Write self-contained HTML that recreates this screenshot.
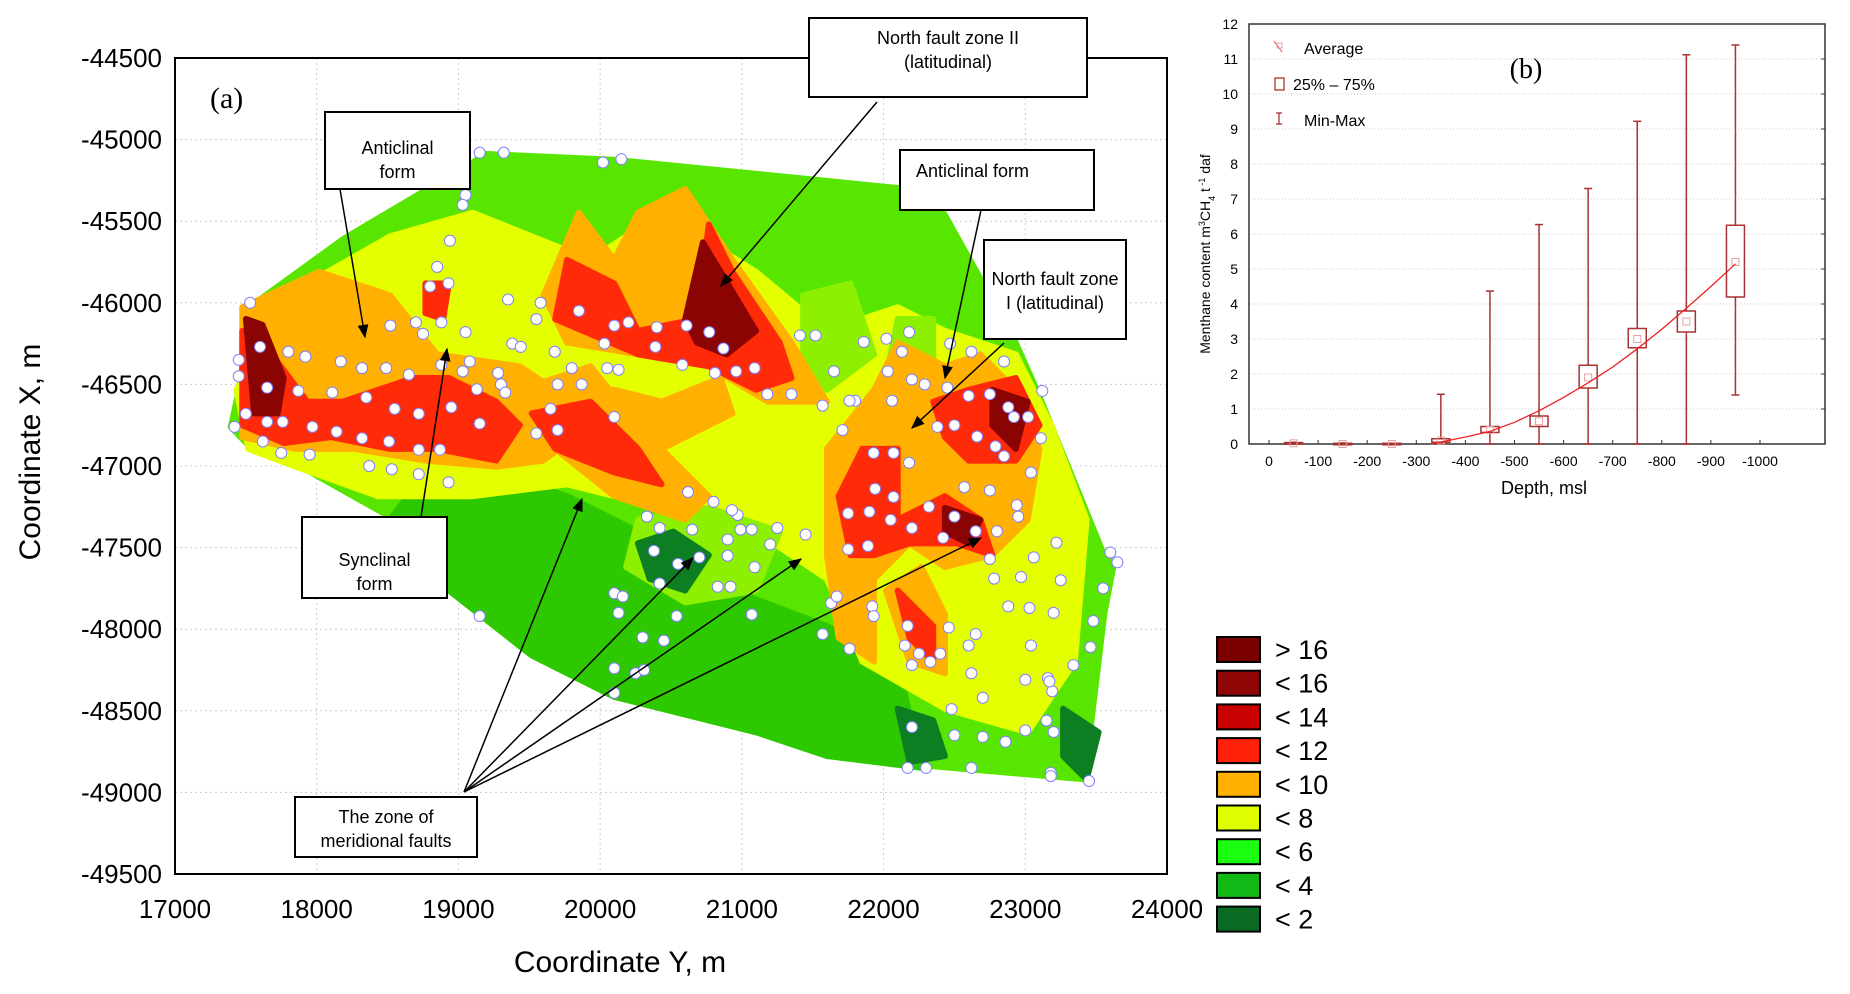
<!DOCTYPE html>
<html><head><meta charset="utf-8"><style>
html,body{margin:0;padding:0;background:#fff}
svg{display:block;font-family:"Liberation Sans",sans-serif}
</style></head><body>
<svg id="svg" width="1850" height="994" viewBox="0 0 1850 994">
<g id="map"></g>
<g id="box"></g>
</svg>
<script>
const NS="http://www.w3.org/2000/svg";
// ---------- Map data (Y, X in metres) ----------
const mapYTicks=[17000,18000,19000,20000,21000,22000,23000,24000];
const mapXTicks=[-44500,-45000,-45500,-46000,-46500,-47000,-47500,-48000,-48500,-49000,-49500];
const hull=[[17375,-46765],[17433,-46533],[17517,-46012],[18183,-45593],[19100,-45122],[19183,-45072],[20100,-45108],[22350,-45303],[22933,-46208],[23100,-46533],[23558,-47510],[23642,-47604],[23575,-47908],[23433,-48936],[22267,-48849],[21600,-48777],[21100,-48632],[20100,-48415],[19517,-48161],[18933,-47763],[18517,-47329],[17850,-47004],[17517,-46895]];
const zoneLow=[[18517,-47329],[18933,-47763],[19517,-48161],[20100,-48415],[21100,-48632],[21600,-48777],[22267,-48849],[22100,-48198],[21600,-47981],[20933,-47763],[20433,-47474],[19767,-47185],[19267,-47040],[18767,-47040]];
const zoneMid=[[17433,-46533],[17933,-45882],[18517,-45593],[19100,-45448],[19933,-45737],[20433,-45448],[21100,-45810],[21600,-46172],[22100,-46027],[22433,-46172],[22933,-46316],[23183,-46750],[23433,-47329],[23350,-48198],[23017,-48632],[22433,-48487],[21850,-48198],[21600,-47691],[21100,-47402],[20433,-47257],[19767,-47112],[19100,-47185],[18433,-47185],[17850,-47004],[17517,-46895]];
const zonesLight=[
 [[20267,-47329],[20767,-47257],[21267,-47402],[21100,-47763],[20600,-47836],[20183,-47619]],
 [[22100,-46099],[22350,-46099],[22350,-46533],[22183,-46678],[22017,-46461]],
 [[21433,-45954],[21767,-45882],[21933,-46316],[21600,-46533],[21433,-46316]]];
const zones10=[
 [[17475,-46027],[18017,-45810],[18517,-45954],[18850,-46316],[19433,-46389],[19683,-46533],[20100,-46533],[20433,-46606],[20850,-46461],[20933,-46678],[20433,-46895],[19933,-46750],[19600,-46967],[19267,-47004],[18767,-46967],[18267,-46895],[17850,-46895],[17475,-46823]],
 [[19433,-46533],[19933,-46389],[20267,-46750],[20767,-47185],[20600,-47329],[20100,-47185],[19683,-46895]],
 [[19600,-45954],[19850,-45448],[20100,-45737],[20267,-45448],[20600,-45303],[20933,-45737],[21350,-46244],[21600,-46606],[21183,-46606],[20767,-46389],[20267,-46316],[19767,-46244]],
 [[21600,-46895],[21933,-46533],[22100,-46244],[22433,-46389],[22683,-46316],[22933,-46533],[23100,-46895],[23017,-47329],[22767,-47546],[22433,-47619],[22183,-47474],[21933,-47691],[21933,-48198],[21683,-48053],[21600,-47546]],
 [[22017,-47763],[22267,-47619],[22433,-47908],[22433,-48270],[22183,-48198]]];
const zones12=[
 [[17475,-46172],[17683,-46316],[17933,-46606],[18183,-46606],[18683,-46461],[18933,-46461],[19267,-46606],[19433,-46750],[19267,-46967],[18850,-46895],[18517,-46895],[18100,-46823],[17767,-46859],[17475,-46750]],
 [[19517,-46678],[19933,-46606],[20267,-46895],[20433,-47112],[20100,-47040],[19683,-46895]],
 [[19683,-46099],[19767,-45737],[20100,-45882],[20267,-46172],[20683,-46099],[20767,-45520],[20933,-45810],[21267,-46244],[21350,-46461],[21100,-46533],[20767,-46389],[20267,-46316]],
 [[21683,-47185],[21850,-46895],[22100,-46895],[22100,-47329],[22267,-47257],[22433,-47185],[22683,-47329],[22767,-47546],[22517,-47474],[22183,-47474],[21933,-47546],[21767,-47546]],
 [[22350,-46606],[22600,-46533],[22933,-46461],[23100,-46750],[22933,-46967],[22600,-46967],[22433,-46823]],
 [[22100,-47763],[22350,-47981],[22350,-48198],[22183,-48053]],
 [[18767,-45882],[18933,-45882],[18892,-46099],[18767,-46063]]];
const zones16=[
 [[17500,-46099],[17617,-46135],[17767,-46461],[17725,-46678],[17558,-46678]],
 [[20725,-45629],[20850,-45810],[21100,-46172],[20892,-46316],[20683,-46244],[20600,-46099]],
 [[22433,-47257],[22683,-47329],[22600,-47474],[22433,-47402]],
 [[22767,-46533],[23017,-46606],[22933,-46895],[22767,-46750]]];
const zones2=[
 [[20267,-47474],[20517,-47402],[20767,-47546],[20600,-47763],[20350,-47691]],
 [[22100,-48487],[22350,-48559],[22433,-48777],[22183,-48813]],
 [[23267,-48487],[23517,-48632],[23433,-48921],[23267,-48777]]];
const wellY=[17530,17600,17450,17450,17500,17650,17800,17870,17650,17760,17920,17970,17420,17620,17750,17950,18170,18320,18490,18110,18350,18140,18320,18510,18550,18650,18520,18700,18750,18880,18880,18950,18720,18720,18870,18720,18930,18370,18530,18850,18800,18930,18940,19050,19030,19150,19320,20020,20150,19050,19030,19080,19130,19280,19150,19300,19330,19380,19440,19350,19580,19550,19680,19650,19700,19550,19700,19800,19870,20100,20030,20050,20130,20200,19850,20100,20400,20390,20610,20580,20770,20870,20810,20960,21090,21180,21350,21410,21520,21570,21650,21800,21860,22020,22030,22180,22130,22060,22200,22290,22470,22450,22620,22600,22750,22850,22880,22920,22660,22790,22850,23020,23120,23110,23040,22500,22380,21710,21760,21930,22070,22180,21940,21900,21750,21890,21750,22070,22050,22200,22320,22420,22500,22570,22650,22800,22750,22940,22950,23220,23600,23650,23550,23060,22750,22780,22880,22970,23030,23250,23200,23480,23460,23340,23040,23000,23160,23190,22600,22400,22330,22460,22620,22150,22170,22250,22200,22650,21630,21760,21570,21920,21930,21670,21450,21250,21200,21070,20970,20930,20990,20900,20700,20550,20380,20330,20420,20650,20800,20620,20900,20830,21070,20420,20540,20100,20160,20130,20300,20450,20100,20250,20310,20100,19150,21090,20920,22200,22500,22700,22300,22170,22620,22860,23000,23150,23200,23180,23180,23450,22480,23170,22700];
const wellX=[-46000,-46270,-46350,-46450,-46680,-46520,-46300,-46540,-46730,-46730,-46330,-46760,-46760,-46850,-46920,-46930,-46360,-46400,-46400,-46550,-46580,-46790,-46830,-46850,-46650,-46440,-46140,-46120,-46190,-46120,-46380,-46640,-46680,-46900,-46900,-47050,-47100,-47000,-47020,-45780,-45900,-45880,-45620,-45340,-45400,-45080,-45080,-45140,-45120,-46180,-46420,-46360,-46530,-46430,-46740,-46500,-46550,-46250,-46270,-45980,-46000,-46100,-46300,-46650,-46500,-46800,-46780,-46400,-46500,-46140,-46250,-46400,-46410,-46120,-46050,-46700,-46150,-46270,-46140,-46380,-46180,-46280,-46430,-46420,-46400,-46560,-46560,-46200,-46200,-46630,-46420,-46600,-46240,-46220,-46420,-46180,-46300,-46600,-46470,-46500,-46250,-46520,-46300,-46570,-46560,-46360,-46640,-46700,-46820,-46880,-46940,-46700,-46540,-46830,-47040,-46750,-46760,-46780,-46600,-46920,-46920,-46980,-47140,-47280,-47290,-47490,-47510,-47190,-47330,-47380,-47250,-47440,-47310,-47130,-47400,-47400,-47150,-47240,-47310,-47470,-47530,-47590,-47750,-47560,-47570,-47690,-47860,-47680,-47870,-47700,-47900,-47950,-48110,-48220,-48100,-48310,-48300,-48380,-48100,-48150,-48200,-47990,-48270,-48100,-47980,-48150,-48220,-48030,-47840,-48120,-48030,-47860,-47920,-47800,-47420,-47380,-47480,-47390,-47300,-47270,-47390,-47450,-47560,-47600,-47520,-47310,-47380,-47390,-47220,-47160,-47550,-47740,-47910,-47720,-47920,-47780,-47800,-47900,-48050,-48070,-48240,-48270,-48250,-48390,-47920,-47620,-47740,-48600,-48650,-48660,-48850,-48850,-48850,-48690,-48620,-48560,-48630,-48880,-48900,-48930,-48490,-48320,-48420];
const legendLabels=["> 16","< 16","< 14","< 12","< 10","< 8","< 6","< 4","< 2"];
const legendColors=["#7a0000","#8e0606","#c80000","#ff2208","#ffb000","#dfff00","#1cff10","#12b815","#0b6b22"];

// ---------- Box plot data ----------
const depths=[-50,-150,-250,-350,-450,-550,-650,-750,-850,-950];
const means=[0.02,0,0,0.1,0.4,0.65,1.9,3.0,3.5,5.2];
const q1=[0,0,0,0.05,0.33,0.5,1.6,2.75,3.2,4.2];
const q3=[0.04,0.02,0.02,0.15,0.5,0.8,2.25,3.3,3.8,6.25];
const mins=[0,0,0,0,0,0,0,0,0,1.4];
const maxs=[0.05,0.03,0.02,1.42,4.37,6.27,7.3,9.22,11.12,11.4];
const fitDepths=[-330,-400,-450,-500,-550,-600,-650,-700,-750,-800,-850,-900,-950];
const fitVals=[0,0.2,0.36,0.62,0.95,1.33,1.75,2.2,2.72,3.28,3.88,4.5,5.15];
const boxYTicks=[0,1,2,3,4,5,6,7,8,9,10,11,12];
const boxXTicks=[0,-100,-200,-300,-400,-500,-600,-700,-800,-900,-1000];

function el(tag,attrs,parent,text){const e=document.createElementNS(NS,tag);for(const k in attrs)e.setAttribute(k,attrs[k]);if(text!==undefined)e.textContent=text;parent.appendChild(e);return e;}

// ===== MAP =====
const map=document.getElementById('map');
const L=175,R=1167,T=58,B=874;
const sx=y=>L+(y-17000)/7000*(R-L);
const sy=x=>T+(-44500-x)/5000*(B-T);
const pts=a=>a.map(p=>sx(p[0]).toFixed(1)+","+sy(p[1]).toFixed(1)).join(" ");
// grid
mapYTicks.forEach(v=>{const g=el('line',{x1:sx(v),x2:sx(v),y1:T,y2:B,stroke:'#ccc','stroke-dasharray':'2,3'},map);});
mapXTicks.forEach(v=>{const g=el('line',{x1:L,x2:R,y1:sy(v),y2:sy(v),stroke:'#ccc','stroke-dasharray':'2,3'},map);});
function poly(arr,fill,name){const p=el('polygon',{points:pts(arr),fill:fill,stroke:fill,'stroke-width':6,'stroke-linejoin':'round'},map);return p;}
const h=poly(hull,'#58e600','contour-hull');h.setAttribute('stroke-width','1');
poly(zoneLow,'#2ec800','contour-low-zone');
poly(zoneMid,'#e4ff00','contour-band-8');
zonesLight.forEach(z=>poly(z,'#8cf000','contour-patch-6'));
zones10.forEach(z=>poly(z,'#ffb000','contour-patch-10'));
zones12.forEach(z=>poly(z,'#ff2a08','contour-patch-12'));
zones16.forEach(z=>poly(z,'#8a0404','contour-patch-16'));
zones2.forEach(z=>poly(z,'#0e7e22','contour-patch-2'));
// wells
wellY.forEach((y,i)=>{const c=el('circle',{cx:sx(y),cy:sy(wellX[i]),r:5.5,fill:'#fff',stroke:'#8080ff','stroke-width':1},map);});
// frame
el('rect',{x:L,y:T,width:R-L,height:B-T,fill:'none',stroke:'#000','stroke-width':2,},map);
mapYTicks.forEach(v=>{const t=el('text',{x:sx(v),y:918,'text-anchor':'middle','font-size':26},map,String(v));});
mapXTicks.forEach(v=>{const t=el('text',{x:162,y:sy(v)+9,'text-anchor':'end','font-size':26},map,String(v));});
el('text',{x:620,y:972,'text-anchor':'middle','font-size':30,},map,'Coordinate Y, m');
el('text',{x:0,y:0,'text-anchor':'middle','font-size':30,transform:'translate(40,452) rotate(-90)',},map,'Coordinate X, m');
el('text',{x:210,y:108,'font-size':30,'font-family':'Liberation Serif,serif',},map,'(a)');
// legend
legendLabels.forEach((lab,i)=>{const y0=637+i*33.7;
 const r=el('rect',{x:1217,y:y0,width:43,height:25,fill:legendColors[i],stroke:'#000','stroke-width':2},map);
 const t=el('text',{x:1275,y:y0+22,'font-size':27},map,lab);});
// annotations
el('defs',{},map).innerHTML='<marker id="ah" viewBox="0 0 10 10" refX="9" refY="5" markerWidth="9" markerHeight="9" orient="auto"><path d="M0,1L10,5L0,9z" fill="#000"/></marker>';
const arrows=[[340,189,365,337],[877,102,721,286],[981,210,945,378],[1004,343,912,428],[421,517,447,349],[464,792,582,499],[464,792,693,558],[464,792,801,559],[464,792,981,538]];
arrows.forEach(a=>{const l=el('line',{x1:a[0],y1:a[1],x2:a[2],y2:a[3],stroke:'#000','stroke-width':1.5,'marker-end':'url(#ah)'},map);});
function callout(x,y,w,hh,lines,name,anchor,tx){const g=el('g',{},map);
 el('rect',{x:x,y:y,width:w,height:hh,fill:'#fff',stroke:'#000','stroke-width':2},g);
 lines.forEach((s,i)=>el('text',{x:tx!==undefined?tx:x+w/2,y:y+(anchor||0)+i*24,'text-anchor':tx!==undefined?'start':'middle','font-size':18},g,s));}
callout(325,112,145,77,['Anticlinal','form'],'callout-anticlinal-left',42);
callout(809,18,278,79,['North fault zone II','(latitudinal)'],'callout-north-fault-ii',26);
callout(900,150,194,60,['Anticlinal form'],'callout-anticlinal-right',27,916);
callout(984,240,142,99,['North fault zone','I (latitudinal)'],'callout-north-fault-i',45);
callout(302,517,145,81,['Synclinal','form'],'callout-synclinal',49);
callout(295,797,182,60,['The zone of','meridional faults'],'callout-meridional-faults',26);

// ===== BOX PLOT =====
const box=document.getElementById('box');
const bL=1249,bR=1825,bT=24,bB=444;
const bx=d=>1269+(-d)/1000*491;
const by=v=>bB-v*(bB-bT)/12;
boxYTicks.forEach(v=>{if(v>0&&v<12){const g=el('line',{x1:bL,x2:bR,y1:by(v),y2:by(v),stroke:'#ccc','stroke-dasharray':'1,2'},box);}
 const t=el('text',{x:1238,y:by(v)+5,'text-anchor':'end','font-size':14},box,String(v));
 const k=el('line',{x1:bR-4,x2:bR,y1:by(v),y2:by(v),stroke:'#333'},box);});
boxXTicks.forEach(v=>{const t=el('text',{x:bx(v),y:466,'text-anchor':'middle','font-size':14},box,String(v));
 const k=el('line',{x1:bx(v),x2:bx(v),y1:bB,y2:bB-4,stroke:'#333'},box);});
el('rect',{x:bL,y:bT,width:bR-bL,height:bB-bT,fill:'none',stroke:'#333','stroke-width':1.5,},box);
depths.forEach((d,i)=>{const x=bx(d),w=18;const g=el('g',{},box);
 el('line',{x1:x,x2:x,y1:by(maxs[i]),y2:by(mins[i]),stroke:'#a83232','stroke-width':1.5},g);
 el('line',{x1:x-4,x2:x+4,y1:by(maxs[i]),y2:by(maxs[i]),stroke:'#a83232','stroke-width':1.5},g);
 el('line',{x1:x-4,x2:x+4,y1:by(mins[i]),y2:by(mins[i]),stroke:'#a83232','stroke-width':1.5},g);
 el('rect',{x:x-w/2,y:by(q3[i]),width:w,height:Math.max(by(q1[i])-by(q3[i]),1.5),fill:'#fff',stroke:'#a83232','stroke-width':1.5},g);
 el('rect',{x:x-3.5,y:by(means[i])-3.5,width:7,height:7,fill:'none',stroke:'#e8a0a0','stroke-width':1},g);});
const fp=fitDepths.map((d,i)=>bx(d).toFixed(1)+","+by(fitVals[i]).toFixed(1)).join(" ");
el('polyline',{points:fp,fill:'none',stroke:'#ee2020','stroke-width':1.3,},box);
el('text',{x:1544,y:494,'text-anchor':'middle','font-size':18,},box,'Depth, msl');
const yt=el('text',{x:0,y:0,'text-anchor':'middle','font-size':14,transform:'translate(1210,254) rotate(-90)',},box,'Menthane content m');
el('tspan',{'baseline-shift':'super','font-size':9},yt,'3');el('tspan',{},yt,'CH');el('tspan',{'baseline-shift':'sub','font-size':9},yt,'4');el('tspan',{},yt,' t');el('tspan',{'baseline-shift':'super','font-size':9},yt,' -1');el('tspan',{},yt,' daf');
el('text',{x:1526,y:78,'text-anchor':'middle','font-size':28,'font-family':'Liberation Serif,serif',},box,'(b)');
const lg=el('g',{},box);
el('line',{x1:1274,y1:41,x2:1282,y2:52,stroke:'#e44','stroke-width':1},lg);
el('rect',{x:1277,y:43,width:5,height:5,fill:'none',stroke:'#e8a0a0'},lg);
el('text',{x:1304,y:54,'font-size':16},lg,'Average');
el('rect',{x:1275,y:78,width:9,height:12,fill:'none',stroke:'#a83232','stroke-width':1.3},lg);
el('text',{x:1293,y:90,'font-size':16},lg,'25% – 75%');
el('line',{x1:1279,y1:113,x2:1279,y2:124,stroke:'#a83232','stroke-width':1.3},lg);
el('line',{x1:1276,y1:113,x2:1282,y2:113,stroke:'#a83232','stroke-width':1.3},lg);
el('line',{x1:1276,y1:124,x2:1282,y2:124,stroke:'#a83232','stroke-width':1.3},lg);
el('text',{x:1304,y:126,'font-size':16},lg,'Min-Max');
</script>
</body></html>
